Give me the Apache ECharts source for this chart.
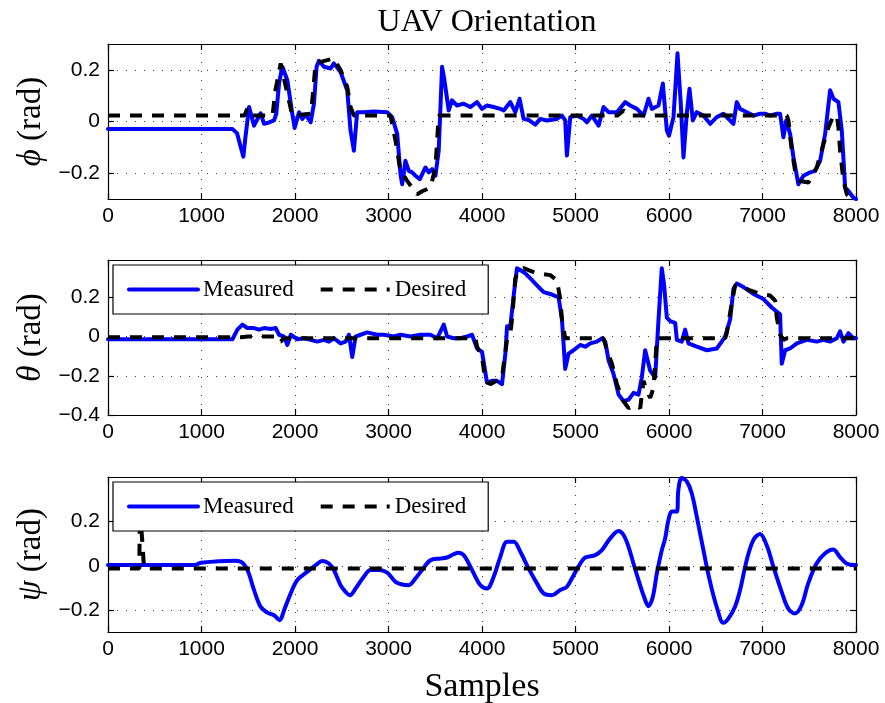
<!DOCTYPE html>
<html>
<head>
<meta charset="utf-8">
<title>UAV Orientation</title>
<script src="https://cdn.jsdelivr.net/npm/echarts@6/dist/echarts.min.js"></script>
<style>
  html, body { margin: 0; padding: 0; background: #ffffff; }
  #chart { width: 885px; height: 703px; }
</style>
</head>
<body>
<div id="chart"></div>
<script>
// Attitude log: [sample, angle in rad] pairs for each Euler angle.
const seriesNames = ['Measured', 'Desired'];
const axisTitles = ['ϕ', 'θ', 'ψ'];
const xTickStep = 1000;
const sampleRange = [0, 8000];
const yTickStep = 0.2;
const yRanges = [[-0.3, 0.3], [-0.4, 0.39], [-0.297, 0.398]];

const phiMeasured = [
  [0, -0.029], [1330, -0.029], [1380, -0.045], [1420, -0.10], [1448, -0.136], [1470, -0.06],
  [1509, 0.056], [1535, 0.02], [1562, -0.016], [1600, 0.01], [1633, 0.032], [1669, -0.009],
  [1710, -0.005], [1776, 0.004], [1800, 0.03], [1830, 0.15], [1865, 0.212], [1918, 0.16],
  [1971, 0.03], [1996, -0.025], [2043, 0.036], [2078, 0.01], [2114, 0.027], [2167, -0.003],
  [2203, 0.069], [2231, 0.212], [2256, 0.235], [2310, 0.212], [2381, 0.205], [2416, 0.225],
  [2487, 0.192], [2559, 0.12], [2594, -0.035], [2630, -0.113], [2665, 0.036], [2736, 0.036],
  [2843, 0.039], [2986, 0.036], [3039, 0.017], [3093, -0.048], [3128, -0.204], [3146, -0.243],
  [3181, -0.152], [3217, -0.191], [3253, -0.197], [3288, -0.21], [3335, -0.223], [3395, -0.178],
  [3431, -0.197], [3466, -0.184], [3502, -0.21], [3537, -0.113], [3573, 0.212], [3598, 0.16],
  [3644, 0.043], [3679, 0.082], [3733, 0.062], [3804, 0.069], [3875, 0.056], [3947, 0.075],
  [4000, 0.049], [4053, 0.062], [4125, 0.056], [4196, 0.049], [4232, 0.043], [4303, 0.075],
  [4356, 0.036], [4402, 0.088], [4445, 0.01], [4498, 0.006], [4570, -0.012], [4623, 0.01],
  [4694, 0.004], [4801, 0.01], [4855, 0.023], [4890, 0.004], [4908, -0.132], [4944, 0.017],
  [5016, 0.023], [5087, 0.01], [5122, -0.003], [5176, 0.023], [5247, -0.016], [5300, 0.056],
  [5354, 0.036], [5443, 0.036], [5532, 0.075], [5585, 0.062], [5657, 0.049], [5728, 0.023],
  [5781, 0.088], [5817, 0.049], [5888, 0.062], [5934, 0.147], [5977, -0.035], [6000, -0.055],
  [6048, 0.017], [6091, 0.264], [6126, 0.069], [6155, -0.139], [6190, 0.03], [6219, 0.127],
  [6255, 0.004], [6297, 0.036], [6368, 0.023], [6440, -0.009], [6511, 0.017], [6582, 0.03],
  [6654, 0.004], [6689, -0.009], [6725, 0.075], [6760, 0.049], [6832, 0.036], [6903, 0.023],
  [6974, 0.03], [7028, 0.03], [7081, 0.023], [7153, 0.03], [7188, 0.03], [7224, -0.061],
  [7253, 0.004], [7295, -0.048], [7331, -0.139], [7384, -0.243], [7438, -0.21], [7509, -0.197],
  [7563, -0.191], [7616, -0.152], [7670, -0.048], [7723, 0.121], [7759, 0.088], [7812, 0.075],
  [7848, -0.035], [7884, -0.256], [7919, -0.269], [7973, -0.295], [8000, -0.3]
];
const phiDesired = [
  [0, 0.023], [1460, 0.023], [1490, 0.05], [1530, 0.023], [1760, 0.023], [1790, 0.12],
  [1847, 0.225], [1918, 0.108], [1971, 0.023], [2167, 0.03], [2185, 0.082], [2220, 0.225],
  [2274, 0.231], [2416, 0.244], [2487, 0.199], [2559, 0.134], [2594, 0.056], [2630, 0.023],
  [3021, 0.023], [3075, -0.074], [3128, -0.191], [3200, -0.23], [3306, -0.282], [3360, -0.27],
  [3448, -0.256], [3502, -0.178], [3520, -0.074], [3537, 0.023], [5450, 0.023], [5514, 0.043],
  [5580, 0.023], [7260, 0.023], [7277, 0.004], [7313, -0.113], [7349, -0.191], [7402, -0.23],
  [7491, -0.236], [7580, -0.178], [7652, -0.087], [7705, -0.023], [7759, 0.023], [7795, 0.023],
  [7812, -0.023], [7830, -0.113], [7866, -0.23], [7902, -0.282], [7937, -0.295], [8000, -0.3]
];

const thetaMeasured = [
  [0, -0.014], [1331, -0.014], [1384, 0.035], [1438, 0.061], [1491, 0.043], [1562, 0.043],
  [1616, 0.035], [1669, 0.043], [1740, 0.038], [1794, 0.043], [1829, 0.009], [1883, 0.0],
  [1918, -0.043], [1954, 0.009], [2025, -0.014], [2096, -0.009], [2167, -0.017], [2238, -0.026],
  [2310, -0.017], [2363, -0.026], [2416, -0.009], [2487, -0.035], [2541, -0.026], [2577, 0.009],
  [2612, -0.104], [2648, 0.0], [2701, 0.009], [2772, 0.021], [2879, 0.009], [2950, 0.009],
  [3057, 0.0], [3128, 0.009], [3235, 0.0], [3342, 0.009], [3448, 0.009], [3520, -0.009],
  [3591, 0.061], [3627, 0.0], [3698, -0.009], [3769, -0.009], [3840, 0.0], [3893, 0.009],
  [3947, -0.061], [4000, -0.078], [4036, -0.183], [4053, -0.235], [4107, -0.226], [4160, -0.226],
  [4214, -0.243], [4250, -0.087], [4268, 0.052], [4303, 0.052], [4339, 0.209], [4374, 0.348],
  [4410, 0.339], [4463, 0.322], [4517, 0.296], [4588, 0.261], [4659, 0.226], [4730, 0.217],
  [4819, 0.2], [4855, 0.087], [4890, -0.165], [4926, -0.087], [4979, -0.07], [5050, -0.043],
  [5104, -0.052], [5158, -0.035], [5229, -0.026], [5282, -0.009], [5318, -0.026], [5354, -0.122],
  [5407, -0.191], [5461, -0.296], [5514, -0.33], [5567, -0.322], [5621, -0.287], [5674, -0.296],
  [5709, -0.209], [5745, -0.07], [5799, -0.174], [5852, -0.209], [5888, 0.087], [5923, 0.348],
  [5948, 0.261], [5977, 0.096], [6013, 0.078], [6066, 0.07], [6084, -0.017], [6137, -0.026],
  [6173, 0.035], [6208, -0.035], [6297, -0.052], [6404, -0.07], [6511, -0.061], [6564, -0.026],
  [6600, 0.0], [6654, 0.087], [6689, 0.243], [6725, 0.27], [6796, 0.252], [6903, 0.217],
  [7010, 0.191], [7099, 0.148], [7188, 0.113], [7206, -0.139], [7242, -0.07], [7295, -0.061],
  [7367, -0.035], [7474, -0.017], [7580, -0.026], [7652, -0.017], [7723, -0.026], [7794, -0.009],
  [7830, 0.026], [7866, -0.026], [7919, 0.017], [7973, -0.009], [8000, -0.009]
];
const thetaDesired = [
  [0, -0.004], [1420, -0.004], [1500, 0.0], [1776, 0.0], [1800, -0.026], [1847, -0.026],
  [1880, -0.009], [3930, -0.009], [3947, -0.052], [4000, -0.104], [4036, -0.226], [4089, -0.243],
  [4214, -0.209], [4232, -0.139], [4268, -0.017], [4303, 0.017], [4321, 0.087], [4356, 0.296],
  [4392, 0.339], [4445, 0.348], [4588, 0.322], [4730, 0.313], [4801, 0.287], [4837, 0.191],
  [4855, 0.087], [4890, -0.009], [5300, -0.009], [5336, -0.07], [5390, -0.139], [5443, -0.243],
  [5514, -0.33], [5567, -0.365], [5638, -0.348], [5692, -0.365], [5728, -0.226], [5763, -0.278],
  [5799, -0.313], [5834, -0.261], [5852, -0.139], [5870, -0.009], [6600, -0.009], [6618, 0.017],
  [6654, 0.122], [6707, 0.261], [6760, 0.261], [6867, 0.235], [6974, 0.217], [7081, 0.209],
  [7135, 0.183], [7153, 0.096], [7188, 0.009], [7224, -0.017], [7260, -0.009], [8000, -0.009]
];

const psiMeasured = [
  [0, 0.003], [922, 0.003], [993, 0.013], [1349, 0.022], [1420, 0.018], [1491, -0.019],
  [1562, -0.109], [1633, -0.184], [1704, -0.21], [1776, -0.222], [1836, -0.244], [1883, -0.199],
  [1954, -0.124], [2025, -0.064], [2132, -0.027], [2221, 0.003], [2292, 0.021], [2363, 0.01],
  [2416, -0.019], [2487, -0.087], [2541, -0.117], [2587, -0.132], [2648, -0.102], [2736, -0.049],
  [2808, -0.019], [2897, -0.019], [2986, -0.031], [3075, -0.072], [3146, -0.084], [3217, -0.087],
  [3288, -0.057], [3359, -0.019], [3448, 0.025], [3555, 0.033], [3626, 0.037], [3698, 0.052],
  [3751, 0.058], [3804, 0.048], [3858, 0.01], [3929, -0.049], [3982, -0.087], [4053, -0.102],
  [4125, -0.049], [4196, 0.04], [4268, 0.108], [4339, 0.108], [4410, 0.063], [4498, -0.012],
  [4588, -0.079], [4659, -0.124], [4748, -0.132], [4837, -0.109], [4908, -0.094], [4980, -0.042],
  [5051, 0.01], [5104, 0.037], [5211, 0.048], [5282, 0.07], [5371, 0.123], [5460, 0.156],
  [5514, 0.138], [5567, 0.085], [5620, 0.01], [5674, -0.064], [5727, -0.132], [5781, -0.181],
  [5827, -0.139], [5870, -0.034], [5923, 0.07], [5959, 0.123], [5994, 0.205], [6030, 0.243],
  [6083, 0.243], [6100, 0.34], [6136, 0.393], [6190, 0.378], [6243, 0.325], [6297, 0.22],
  [6368, 0.07], [6439, -0.072], [6510, -0.184], [6582, -0.256], [6635, -0.237], [6706, -0.184],
  [6760, -0.109], [6831, 0.025], [6902, 0.115], [6973, 0.142], [7044, 0.093], [7116, -0.004],
  [7205, -0.117], [7276, -0.192], [7347, -0.214], [7418, -0.177], [7489, -0.079], [7578, 0.01],
  [7667, 0.055], [7756, 0.073], [7827, 0.04], [7898, 0.01], [7987, 0.003], [8000, 0.003]
];
const psiDesired = [
  [0, -0.012], [335, -0.012], [342, 0.3], [350, 0.2], [365, 0.12], [375, 0.06],
  [380, 0.02], [390, -0.012], [8000, -0.012]
];

const panels = [
  { symbol: axisTitles[0], measured: phiMeasured, desired: phiDesired, range: yRanges[0], legend: false },
  { symbol: axisTitles[1], measured: thetaMeasured, desired: thetaDesired, range: yRanges[1], legend: true },
  { symbol: axisTitles[2], measured: psiMeasured, desired: psiDesired, range: yRanges[2], legend: true }
];

// Layout of the three stacked axes boxes.
const SANS = '"Liberation Sans", Arial, Helvetica, sans-serif';
const SERIF = '"Liberation Serif", "Times New Roman", "DejaVu Serif", serif';
const boxLeft = 108, boxWidth = 748, boxHeight = 155;
const boxTops = [44, 260, 477];
const frame = { color: '#000', width: 1.2 };
const gridDots = { color: '#444', width: 1, type: [1, 8] };

function yTickText(v) {
  if (Math.abs(v) < 1e-9) return '0';
  return v.toFixed(1).replace('-', '\u2212');
}
function xTickText(v) {
  return String(Math.round(v));
}

const grids = [], xAxes = [], yAxes = [], series = [], legends = [];

panels.forEach((p, i) => {
  grids.push({
    left: boxLeft, top: boxTops[i], width: boxWidth, height: boxHeight,
    containLabel: false, outerBoundsMode: 'none', show: false
  });

  xAxes.push({
    gridIndex: i, type: 'value', position: 'bottom',
    min: sampleRange[0], max: sampleRange[1], interval: xTickStep,
    axisLine: { show: true, onZero: false, lineStyle: frame },
    axisTick: { show: true, inside: true, length: 6, lineStyle: frame },
    axisLabel: { show: true, color: '#000', fontFamily: SANS, fontSize: 21, margin: 7,
                 formatter: xTickText, hideOverlap: false },
    splitLine: { show: true, lineStyle: gridDots },
    name: i === 2 ? 'Samples' : '',
    nameLocation: 'middle', nameGap: 38,
    nameTextStyle: { fontFamily: SERIF, fontSize: 34, color: '#000' }
  });
  xAxes.push({
    gridIndex: i, type: 'value', position: 'top',
    min: sampleRange[0], max: sampleRange[1], interval: xTickStep,
    axisLine: { show: true, onZero: false, lineStyle: frame },
    axisTick: { show: true, inside: true, length: 6, lineStyle: frame },
    axisLabel: { show: false }, splitLine: { show: false }
  });

  yAxes.push({
    gridIndex: i, type: 'value', position: 'left',
    min: p.range[0], max: p.range[1], minInterval: yTickStep, maxInterval: yTickStep,
    axisLine: { show: true, onZero: false, lineStyle: frame },
    axisTick: { show: true, inside: true, length: 6, lineStyle: frame },
    axisLabel: {
      show: true, color: '#000', fontFamily: SANS, fontSize: 21, margin: 8,
      formatter: yTickText, hideOverlap: false,
      showMinLabel: i === 1, showMaxLabel: false
    },
    splitLine: { show: true, lineStyle: gridDots },
    name: '{g|' + p.symbol + '} (rad)',
    nameLocation: 'middle', nameGap: 60, nameRotate: 90,
    nameTextStyle: {
      fontFamily: SERIF, fontSize: 33, color: '#000',
      rich: { g: { fontFamily: SERIF, fontStyle: 'italic', fontSize: 33, color: '#000' } }
    }
  });
  yAxes.push({
    gridIndex: i, type: 'value', position: 'right',
    min: p.range[0], max: p.range[1], minInterval: yTickStep, maxInterval: yTickStep,
    axisLine: { show: true, onZero: false, lineStyle: frame },
    axisTick: { show: true, inside: true, length: 6, lineStyle: frame },
    axisLabel: { show: false }, splitLine: { show: false }
  });

  series.push({
    name: seriesNames[0], type: 'line', xAxisIndex: 2 * i, yAxisIndex: 2 * i,
    data: p.measured, symbol: 'none', showSymbol: false, clip: true,
    smooth: i === 2 ? 0.35 : false,
    lineStyle: { color: '#0000ff', width: 4, cap: 'round', join: 'round' },
    itemStyle: { color: '#0000ff' }, z: 2
  });
  series.push({
    name: seriesNames[1], type: 'line', xAxisIndex: 2 * i, yAxisIndex: 2 * i,
    data: p.desired, symbol: 'none', showSymbol: false, clip: true,
    lineStyle: { color: '#000000', width: 4, type: [12, 10] },
    itemStyle: { color: '#000000' }, z: 3
  });

  if (p.legend) {
    legends.push({
      left: 113, top: boxTops[i] + 5,
      orient: 'horizontal', data: seriesNames, selectedMode: false,
      itemWidth: 69, itemHeight: 14, itemGap: 25,
      padding: [13, 22, 13, 14],
      backgroundColor: '#ffffff', borderColor: '#000', borderWidth: 1.2, borderRadius: 0,
      lineStyle: { width: 4 },
      itemStyle: { opacity: 0 },
      textStyle: { fontFamily: SERIF, fontSize: 23, color: '#000' },
      z: 10
    });
  }
});

const chart = echarts.init(document.getElementById('chart'), null, { renderer: 'canvas' });
chart.setOption({
  animation: false,
  backgroundColor: '#ffffff',
  title: {
    text: 'UAV Orientation', left: 482, top: 2, textAlign: 'center',
    textStyle: { fontFamily: SERIF, fontSize: 32, fontWeight: 'normal', color: '#000' }
  },
  grid: grids,
  xAxis: xAxes,
  yAxis: yAxes,
  legend: legends,
  series: series
});
</script>
</body>
</html>
